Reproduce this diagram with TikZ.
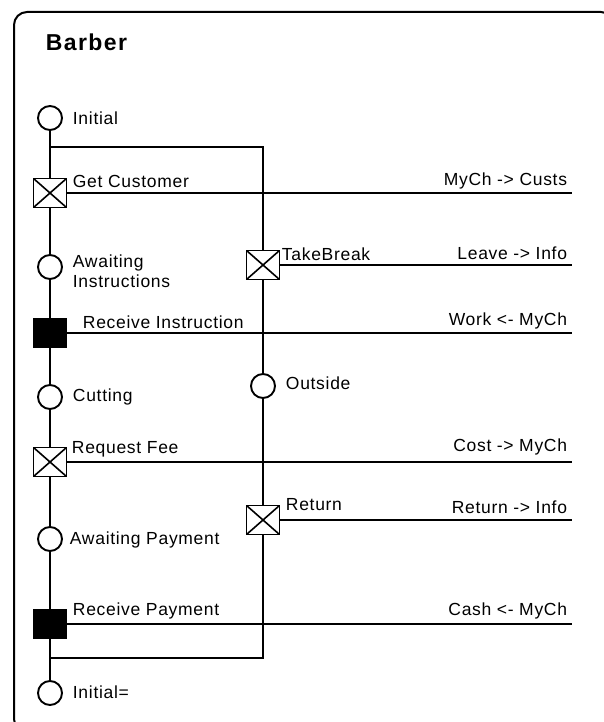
\documentclass[tikz,border=0pt]{standalone}
\usepackage{fontspec}
\setmainfont{Liberation Sans}
\newfontfamily\lblfont[LetterSpace=4]{Liberation Sans}
\newfontfamily\ttlfont[LetterSpace=6]{Liberation Sans}
\begin{document}
\begin{tikzpicture}[x=1pt,y=-1pt, line width=1.9pt,
  state/.style={circle, draw, line width=1.9pt, minimum size=24pt, inner sep=0pt},
  sendbox/.style={rectangle, draw, line width=1.9pt, minimum width=33pt, minimum height=29pt, inner sep=0pt,
    path picture={\draw[line width=1.6pt] (path picture bounding box.south west) -- (path picture bounding box.north east)
      (path picture bounding box.north west) -- (path picture bounding box.south east);}},
  recvbox/.style={rectangle, draw, fill=black, line width=1.9pt, minimum width=33pt, minimum height=29pt, inner sep=0pt},
  lbl/.style={anchor=west, inner sep=0pt, font=\lblfont\fontsize{17.5}{20}\selectfont, align=left},
  chan/.style={anchor=east, inner sep=0pt, font=\lblfont\fontsize{17.5}{20}\selectfont},
  title/.style={anchor=west, inner sep=0pt, font=\ttlfont\fontsize{23}{25}\selectfont\bfseries}]
\useasboundingbox (0,0) rectangle (604,722);

% outer frame of the process, running past the page edges
\begin{scope}
\clip (0,0) rectangle (604,722);
\draw[line width=2pt, rounded corners=13pt] (14,12) rectangle (614,732);
\end{scope}
\node[title] (ttl) at (45,42) {Barber};

% main thread of states and transitions
\node[state] (init) at (50,118) {};
\node[sendbox] (getc) at (50,193) {};
\node[state] (await) at (50,267) {};
\node[recvbox] (rinst) at (50,333) {};
\node[state] (cut) at (50,397) {};
\node[sendbox] (rfee) at (50,462) {};
\node[state] (apay) at (50,539) {};
\node[recvbox] (rpay) at (50,624) {};
\node[state] (fin) at (50,693) {};

% break thread
\node[sendbox] (brk) at (263,265) {};
\node[state] (outs) at (263,386) {};
\node[sendbox] (ret) at (263,520) {};

\coordinate (fork) at (50,147);
\coordinate (forkr) at (263,147);
\coordinate (join) at (50,658);
\coordinate (joinr) at (263,658);

\draw (init) -- (fork) -- (getc) -- (await) -- (rinst) -- (cut) -- (rfee) -- (apay) -- (rpay) -- (join) -- (fin);
\draw (fork) -- (forkr) -- (brk) -- (outs) -- (ret) -- (joinr) -- (join);

% channel lines
\coordinate (e1) at (572,193);
\coordinate (e2) at (572,265);
\coordinate (e3) at (572,333);
\coordinate (e4) at (572,462);
\coordinate (e5) at (572,520);
\coordinate (e6) at (572,624);
\draw (getc) -- (e1);
\draw (brk) -- (e2);
\draw (rinst) -- (e3);
\draw (rfee) -- (e4);
\draw (ret) -- (e5);
\draw (rpay) -- (e6);

% state and transition labels
\node[lbl] (l1) at (72,118) {Initial};
\node[lbl] (l2) at (72,181) {Get Customer};
\node[lbl] (l3) at (72,271) {Awaiting\\Instructions};
\node[lbl] (l4) at (82,322) {Receive Instruction};
\node[lbl] (l5) at (72,397) {Cutting};
\node[lbl] (l6) at (71,449) {Request Fee};
\node[lbl] (l7) at (69,540) {Awaiting Payment};
\node[lbl] (l8) at (72,611) {Receive Payment};
\node[lbl] (l9) at (72,692) {Initial=};
\node[lbl] (l10) at (281,254) {TakeBreak};
\node[lbl] (l11) at (285,383) {Outside};
\node[lbl] (l12) at (285,505) {Return};

% channel labels
\node[chan] (c1) at (568,181) {MyCh -> Custs};
\node[chan] (c2) at (568,253) {Leave -> Info};
\node[chan] (c3) at (568,321) {Work <- MyCh};
\node[chan] (c4) at (568,447) {Cost -> MyCh};
\node[chan] (c5) at (568,507) {Return -> Info};
\node[chan] (c6) at (568,611) {Cash <- MyCh};
\end{tikzpicture}
\end{document}
